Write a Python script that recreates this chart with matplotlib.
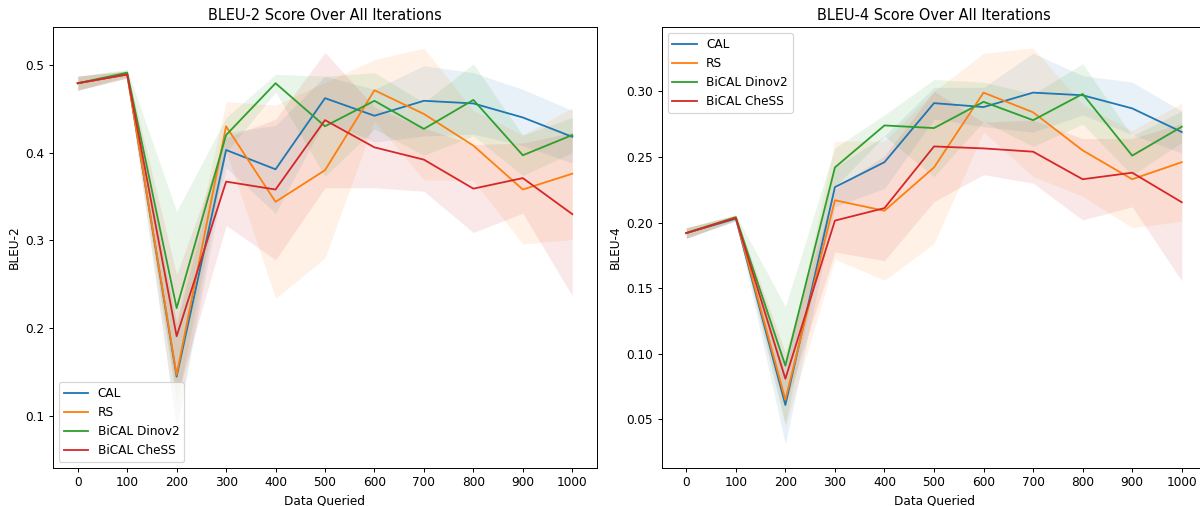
import matplotlib
matplotlib.use("Agg")
import matplotlib.pyplot as plt
import numpy as np

data_queried = [0, 100, 200, 300, 400, 500, 600, 700, 800, 900, 1000]
methods = ["CAL", "RS", "BiCAL Dinov2", "BiCAL CheSS"]

# BLEU-2 mean and standard deviation per method
bleu2_cal = [0.479, 0.489, 0.145, 0.403, 0.381, 0.462, 0.442, 0.459, 0.456, 0.440, 0.418]
bleu2_rs = [0.479, 0.489, 0.147, 0.430, 0.344, 0.380, 0.471, 0.444, 0.408, 0.358, 0.376]
bleu2_dino = [0.479, 0.491, 0.223, 0.420, 0.479, 0.430, 0.459, 0.427, 0.460, 0.397, 0.420]
bleu2_chess = [0.479, 0.489, 0.191, 0.367, 0.358, 0.437, 0.406, 0.392, 0.359, 0.371, 0.330]

bleu2_cal_sd = [0.008, 0.004, 0.06, 0.02, 0.05, 0.025, 0.03, 0.04, 0.035, 0.032, 0.03]
bleu2_rs_sd = [0.008, 0.004, 0.06, 0.028, 0.11, 0.10, 0.035, 0.075, 0.04, 0.062, 0.075]
bleu2_dino_sd = [0.008, 0.004, 0.11, 0.02, 0.01, 0.057, 0.032, 0.03, 0.041, 0.023, 0.02]
bleu2_chess_sd = [0.008, 0.004, 0.07, 0.05, 0.08, 0.077, 0.046, 0.036, 0.05, 0.04, 0.093]

# BLEU-4 mean and standard deviation per method
bleu4_cal = [0.192, 0.203, 0.061, 0.227, 0.246, 0.291, 0.288, 0.299, 0.297, 0.287, 0.269]
bleu4_rs = [0.192, 0.204, 0.065, 0.217, 0.209, 0.242, 0.299, 0.284, 0.255, 0.233, 0.246]
bleu4_dino = [0.192, 0.204, 0.091, 0.242, 0.274, 0.272, 0.292, 0.278, 0.298, 0.251, 0.273]
bleu4_chess = [0.192, 0.2035, 0.081, 0.2015, 0.211, 0.258, 0.2565, 0.254, 0.233, 0.238, 0.2155]

bleu4_cal_sd = [0.004, 0.002, 0.03, 0.015, 0.02, 0.012, 0.015, 0.03, 0.015, 0.02, 0.016]
bleu4_rs_sd = [0.004, 0.002, 0.02, 0.045, 0.053, 0.058, 0.03, 0.049, 0.035, 0.037, 0.045]
bleu4_dino_sd = [0.004, 0.002, 0.045, 0.015, 0.008, 0.037, 0.015, 0.02, 0.023, 0.015, 0.012]
bleu4_chess_sd = [0.004, 0.002, 0.02, 0.024, 0.04, 0.042, 0.02, 0.024, 0.031, 0.026, 0.06]

colors = ["#1f77b4", "#ff7f0e", "#2ca02c", "#d62728"]

DPI = 87
W, H = 1200, 506
fig = plt.figure(figsize=(W / DPI, H / DPI), dpi=DPI)
ax1 = fig.add_axes([53 / W, 1 - 468 / H, 544 / W, 441 / H])
ax2 = fig.add_axes([661.5 / W, 1 - 468 / H, 545 / W, 441 / H])


def panel(ax, means, sds, title, ylabel, loc):
    x = np.array(data_queried)
    for name, m, s, c in zip(methods, means, sds, colors):
        m = np.array(m)
        s = np.array(s)
        ax.plot(x, m, color=c, label=name, lw=1.5)
        ax.fill_between(x, m - s, m + s, color=c, alpha=0.1, lw=0)
    ax.set_title(title)
    ax.set_xlabel("Data Queried")
    ax.set_ylabel(ylabel)
    ax.set_xticks(data_queried)
    ax.legend(loc=loc)


panel(ax1, [bleu2_cal, bleu2_rs, bleu2_dino, bleu2_chess],
      [bleu2_cal_sd, bleu2_rs_sd, bleu2_dino_sd, bleu2_chess_sd],
      "BLEU-2 Score Over All Iterations", "BLEU-2", "lower left")
ax1.set_ylim(0.041, 0.543)
ax1.set_yticks([0.1, 0.2, 0.3, 0.4, 0.5])

panel(ax2, [bleu4_cal, bleu4_rs, bleu4_dino, bleu4_chess],
      [bleu4_cal_sd, bleu4_rs_sd, bleu4_dino_sd, bleu4_chess_sd],
      "BLEU-4 Score Over All Iterations", "BLEU-4", "upper left")
ax2.set_ylim(0.013, 0.349)
ax2.set_yticks([0.05, 0.10, 0.15, 0.20, 0.25, 0.30])

fig.savefig("out.png", dpi=DPI)
